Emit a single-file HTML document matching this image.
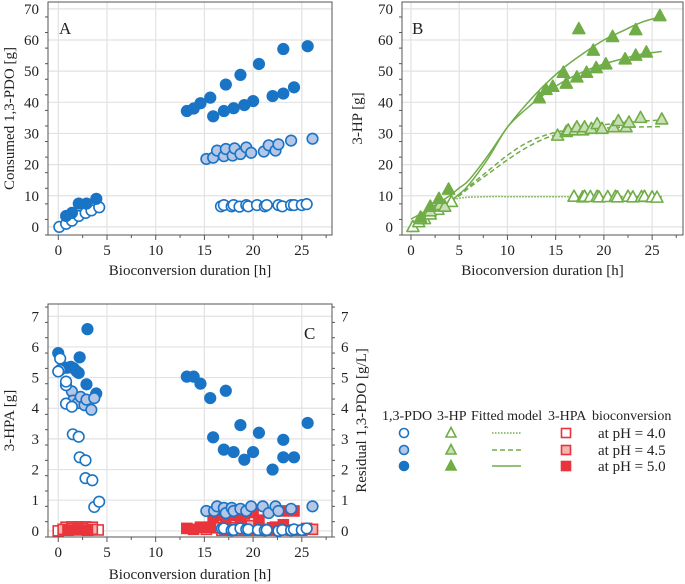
<!DOCTYPE html>
<html><head><meta charset="utf-8"><style>
html,body{margin:0;padding:0;background:#fff}
svg{display:block;font-family:"Liberation Serif",serif}
</style></head><body>
<svg id="c" width="685" height="584" viewBox="0 0 685 584" xmlns="http://www.w3.org/2000/svg"></svg>
<script>
// ---------- DATA ----------
// Panel A: consumed 1,3-PDO [g]
const aOpenT=[0.1,0.8,1.4,2.1,2.8,3.4,4.2,16.7,17,17.8,18,18.6,19.3,19.5,20.4,21.2,21.4,22.6,23,23.9,24.2,25,25.5];
const aOpenV=[0,1,2,3.5,4.5,5.3,6.3,6.6,7,6.6,7,6.5,7,6.6,7,6.6,7,7,6.6,7,7,7,7.3];
const aLightT=[1,2,2.9,15.2,15.9,16.3,17,17.2,17.9,18.1,18.7,19.3,19.8,21.1,21.6,22.3,22.6,23.9,26.1];
const aLightV=[2,3.5,5,21.8,22.2,24.5,22.7,25,22.9,25.2,23.4,25.5,23.8,24.2,26.2,24.5,26.5,27.7,28.3];
const aFullT=[0.8,1.4,2.1,2.9,3.9,13.2,13.9,14.6,15.6,17.2,18.7,20.6,23.1,25.6,15.9,17,18,19.1,20,22,23.1,24.2];
const aFullV=[3.5,4.5,7.5,7.5,9,37.2,38,39.7,41.5,45.7,48.8,52.3,57.1,58,35.5,37.2,38.1,39.1,40.4,42,42.8,44.8];
// Panel B: 3-HP [g]
const bOpenT=[0.2,0.8,1.4,2,2.8,3.4,4.2,16.9,17.8,18,18.6,19.3,19.5,20.4,21.2,21.4,22.5,23,23.9,24.2,25,25.5];
const bOpenV=[0,1.5,2.5,4,5.5,6.5,8,9.7,9.5,9.7,9.6,9.7,9.5,9.6,9.7,9.5,9.7,9.5,9.6,9.7,9.5,9.4];
const bLightT=[1,2,3,3.5,15.2,16.1,16.3,17,17.2,17.8,18,18.7,19.3,19.8,21,21.5,22.3,22.6,23.8,26];
const bLightV=[2.5,5,7,6.5,29.3,30.5,31,31,32,31,32,31.5,33,31.5,32,34,32,33.5,35,34.5];
const bFullT=[1,2,2.9,3.9,13.3,14,14.7,15.8,16.1,17.2,17.4,18.2,18.9,19.2,20.2,20.9,22.2,23.3,23.3,24.4,25.8];
const bFullV=[3,6.5,9,12,41.3,44,45,49.5,46,48,63.5,49.5,56.6,51,52.2,61,53.8,55,63.2,56,67.7];
const fitT=[0,1,2,3,4,5,6,8,10,12,14,16,18,20,22,24,26];
const fitSolid1=[2.5,4.2,6,8,10,12.5,15,23,32,39.5,46,51.5,56,60,63,65.8,67.5];
const fitSolid2=[0.5,2.2,4,6,8,10.5,13.5,22,32,38,43,47,50,52.3,54,55.5,56.3];
const fitDash1=[0,2,4,6,8,10.5,13,18,23,27,29.5,31,32,32.8,33.5,34,34.3];
const fitDash2=[0,2,4,6,8,10,12.5,17,21.5,25.5,28.5,30.3,31.2,31.7,32,32.1,32.2];
const fitDot=[0,2.5,5,7,8.5,9.2,9.5,9.7,9.7,9.7,9.7,9.7,9.7,9.7,9.7,9.7,9.7];
// Panel C: 3-HPA [g] (squares) and residual 1,3-PDO [g/L] (circles)
const cOpenT=[0,0.2,0.8,0.8,0.8,1.4,1.5,2.1,2.2,2.8,2.8,3.5,3.7,4.2,16.8,17,17.8,18,18.7,19.3,19.5,20.5,21.2,21.4,22.6,23,23.9,24.2,25,25.5];
const cOpenV=[5.2,5.62,4.75,4.87,4.15,4.05,3.15,3.07,2.4,2.3,1.72,1.65,0.78,0.95,0.07,0.08,0.02,0.03,0.08,0.05,0.05,0.03,0.02,0.03,0,0.03,0.02,0.05,0.03,0.08];
const cLightT=[0.2,1.4,1.5,2,2.3,2.7,2.9,3.4,3.7,15.2,16,16.3,17,17.2,17.8,18,18.7,19.3,19.8,21,21.6,22.3,22.6,23.9,26.1];
const cLightV=[5.25,4.55,4.25,4.17,4.37,4.1,4.28,3.95,4.33,0.65,0.65,0.8,0.75,0.58,0.75,0.65,0.72,0.65,0.8,0.8,0.58,0.8,0.65,0.72,0.8];
const cFullT=[0,0.9,1.3,1.6,1.9,2.1,2.2,2.9,3,3.9,13.2,13.9,14.6,15.6,15.9,17,17.2,18,18.7,19.1,20,20.6,22,23.1,23.1,24.2,25.6];
const cFullV=[5.8,5.32,5.35,5.3,5.2,5.15,5.66,4.78,6.58,4.48,5.03,5.03,4.8,4.33,3.05,2.65,4.57,2.57,3.45,2.32,2.57,3.2,2,2.97,2.4,2.4,3.52];
const sqOpenT=[0,0.8,1.4,2.1,2.8,3.1,3.5,4.1,16.8,17.8,18.6,19.5,20.5,21.4,22.6,23.9,25];
const sqOpenV=[0,0.12,0.13,0.13,0.13,0.03,0.12,0.03,0.02,0.02,0.02,0.02,0.02,0.02,0.02,0.02,0.02];
const sqLightT=[0.5,1.5,2.5,3.5,15.2,16.3,17.2,18,19.8,21.5,22.3,25.5,26.1];
const sqLightV=[0.05,0.08,0.08,0.05,0.05,0.1,0.05,0.1,0.17,0.05,0.12,0.08,0.05];
const sqFullT=[1,2,3,13.2,13.9,14.6,15.6,15.9,17,17.2,18,18.7,19.1,20,20.6,22,23.1,23.1,24.2];
const sqFullV=[0.02,0.03,0.02,0.08,0.05,0.12,0.12,0.45,0.5,0.3,0.5,0.2,0.55,0.6,0.35,0.1,0.2,0.65,0.65];
const xTicks=[0,5,10,15,20,25];
const yTicksAB=[0,10,20,30,40,50,60,70];
const yTicksC=[0,1,2,3,4,5,6,7];

// ---------- STYLE ----------
const BLUE="#1a74c6",LBLUE="#b5c6e6",GREEN="#70ad47",LGREEN="#c9dfb5",RED="#e8343a",LRED="#f4b4b0";
const NS="http://www.w3.org/2000/svg";
const svg=document.getElementById('c');
function el(tag,attrs,parent){const e=document.createElementNS(NS,tag);for(const k in attrs)e.setAttribute(k,attrs[k]);(parent||svg).appendChild(e);return e;}
function txt(s,x,y,size,anchor,parent){const t=el('text',{x:x,y:y,'font-size':size,'text-anchor':anchor||'middle',fill:'#222'},parent);t.textContent=s;return t;}

function panel(name,box,xr,yr,yTicks,yMinor,opts){
  const g=el('g',{});
  
  
  const sx=t=>box.x0+(t-xr[0])/(xr[1]-xr[0])*(box.x1-box.x0);
  const sy=v=>box.y1-(v-yr[0])/(yr[1]-yr[0])*(box.y1-box.y0);
  xTicks.forEach(t=>{el('line',{x1:sx(t),x2:sx(t),y1:box.y0,y2:box.y1,stroke:'#e2e2e2','stroke-width':1.2},g);});
  yTicks.forEach(v=>{el('line',{x1:box.x0,x2:box.x1,y1:sy(v),y2:sy(v),stroke:'#e2e2e2','stroke-width':1.2},g);});
  const fr=el('rect',{x:box.x0,y:box.y0,width:box.x1-box.x0,height:box.y1-box.y0,fill:'none',stroke:'#555','stroke-width':1},g);
  
  
  for(let t=0;t<=27.5;t+=2.5){const maj=t%5===0;el('line',{x1:sx(t),x2:sx(t),y1:box.y1,y2:box.y1+(maj?5:3),stroke:'#555'},g);}
  xTicks.forEach(t=>{const l=txt(String(t),sx(t),box.y1+20,15,'middle',g);
    
    });
  const xl=txt('Bioconversion duration [h]',(box.x0+box.x1)/2,box.y1+opts.xty,15,'middle',g);
  
  
  const sides=opts.right?[0,1]:[0];
  sides.forEach(sd=>{
    const xe=sd?box.x1:box.x0, dir=sd?1:-1;
    for(let v=yr[0];v<=yr[1]+1e-9;v+=yMinor){const maj=Math.abs(v/yTicks[1]-Math.round(v/yTicks[1]))<1e-6;
      el('line',{x1:xe,x2:xe+dir*(maj?5:3),y1:sy(v),y2:sy(v),stroke:'#555'},g);}
    yTicks.forEach(v=>{const l=txt(String(v),xe+dir*9,sy(v)+5,15,sd?'start':'end',g);
      
      });
  });
  const yl=txt(opts.ylabel,0,0,15,'middle',g);
  yl.setAttribute('transform','translate('+opts.ylx+','+(box.y0+box.y1)/2+') rotate(-90)');
  
  
  if(opts.ylabel2){const y2=txt(opts.ylabel2,0,0,15,'middle',g);
    y2.setAttribute('transform','translate('+opts.yl2x+','+(box.y0+box.y1)/2+') rotate(-90)');
    
    }
  const pl=txt(opts.letter,opts.lx,opts.ly,17,'start',g);
  
  
  return {g,sx,sy};
}
function circles(P,T,V,fill,stroke,nm){T.forEach((t,i)=>{const c=el('circle',{cx:P.sx(t),cy:P.sy(V[i]),r:5.3,fill:fill,stroke:stroke,'stroke-width':1.6},P.g);
  
  });}
function tris(P,T,V,fill,stroke,nm){T.forEach((t,i)=>{const x=P.sx(t),y=P.sy(V[i]);
  const p=el('polygon',{points:(x)+','+(y-6.5)+' '+(x-6)+','+(y+4.5)+' '+(x+6)+','+(y+4.5),fill:fill,stroke:stroke,'stroke-width':1.6,'stroke-linejoin':'round'},P.g);
  
  });}
function squares(P,T,V,fill,stroke,nm){T.forEach((t,i)=>{const s=el('rect',{x:P.sx(t)-5,y:P.sy(V[i])-5,width:10,height:10,fill:fill,stroke:stroke,'stroke-width':1.6},P.g);
  
  });}
function fit(P,V,dash,nm){
  const pts=fitT.map((t,i)=>[P.sx(t),P.sy(V[i])]);
  let d='M'+pts[0][0].toFixed(1)+','+pts[0][1].toFixed(1);
  for(let i=0;i<pts.length-1;i++){
    const p0=pts[Math.max(0,i-1)],p1=pts[i],p2=pts[i+1],p3=pts[Math.min(pts.length-1,i+2)];
    const c1=[p1[0]+(p2[0]-p0[0])/6,p1[1]+(p2[1]-p0[1])/6],c2=[p2[0]-(p3[0]-p1[0])/6,p2[1]-(p3[1]-p1[1])/6];
    d+=' C'+c1.map(v=>v.toFixed(1)).join(',')+' '+c2.map(v=>v.toFixed(1)).join(',')+' '+p2.map(v=>v.toFixed(1)).join(',');
  }
  const p=el('path',{d:d,fill:'none',stroke:GREEN,'stroke-width':1.5,'stroke-dasharray':dash,'stroke-linejoin':'round'},P.g);
  
  }

// Panel A
const A=panel('panel-a',{x0:48,x1:332,y0:2,y1:235},[-1.06,28.1],[-2.6,72.2],yTicksAB,5,{ylabel:'Consumed 1,3-PDO [g]',ylx:14,letter:'A',lx:59,ly:34,xty:40});
circles(A,aLightT,aLightV,LBLUE,BLUE,'pdo-ph45-point');
circles(A,aOpenT,aOpenV,'#fff',BLUE,'pdo-ph40-point');
circles(A,aFullT,aFullV,BLUE,BLUE,'pdo-ph50-point');
// Panel B
const B=panel('panel-b',{x0:402,x1:683,y0:2,y1:235},[-0.93,28.2],[-2.6,72.2],yTicksAB,5,{ylabel:'3-HP [g]',ylx:362,letter:'B',lx:412,ly:34,xty:40});
fit(B,fitDot,'1.5,1.5','fit-ph40');
fit(B,fitDash1,'5,3','fit-ph45-a');
fit(B,fitDash2,'5,3','fit-ph45-b');
fit(B,fitSolid1,'','fit-ph50-a');
fit(B,fitSolid2,'','fit-ph50-b');
tris(B,bOpenT,bOpenV,'#fff',GREEN,'hp-ph40-point');
tris(B,bLightT,bLightV,LGREEN,GREEN,'hp-ph45-point');
tris(B,bFullT,bFullV,GREEN,GREEN,'hp-ph50-point');
// Panel C
const C=panel('panel-c',{x0:48,x1:332,y0:304,y1:537},[-1.05,28.1],[-0.2,7.4],yTicksC,0.5,{ylabel:'3-HPA [g]',ylx:14,ylabel2:'Residual 1,3-PDO [g/L]',yl2x:366,right:true,letter:'C',lx:304,ly:339,xty:42});
squares(C,sqOpenT,sqOpenV,'#fff',RED,'hpa-ph40-point');
squares(C,sqLightT,sqLightV,LRED,RED,'hpa-ph45-point');
squares(C,sqFullT,sqFullV,RED,RED,'hpa-ph50-point');
circles(C,cFullT,cFullV,BLUE,BLUE,'residual-pdo-ph50-point');
circles(C,cLightT,cLightV,LBLUE,BLUE,'residual-pdo-ph45-point');
circles(C,cOpenT,cOpenV,'#fff',BLUE,'residual-pdo-ph40-point');

// Legend
const L=el('g',{});


[['1,3-PDO',382],['3-HP',437],['Fitted model',471],['3-HPA',548],['bioconversion',592]].forEach(h=>{const t=txt(h[0],h[1],420,14,'start',L);
  
  });
const rows=[433,450,466];
const fills=[['#fff',LBLUE,BLUE],['#fff',LGREEN,GREEN],['#fff',LRED,RED]];
const dashes=['1.5,1.5','5,3',''];
const labs=['at pH = 4.0','at pH = 4.5','at pH = 5.0'];
rows.forEach((y,i)=>{
  const c=el('circle',{cx:404,cy:y,r:4.5,fill:fills[0][i],stroke:BLUE,'stroke-width':1.6},L);
  
  
  const p=el('polygon',{points:'451,'+(y-5.5)+' 446,'+(y+4)+' 456,'+(y+4),fill:fills[1][i],stroke:GREEN,'stroke-width':1.6},L);
  
  
  const ln=el('line',{x1:492,x2:521,y1:y,y2:y,stroke:GREEN,'stroke-width':1.5,'stroke-dasharray':dashes[i]},L);
  
  
  const s=el('rect',{x:561.5,y:y-4.5,width:9,height:9,fill:fills[2][i],stroke:RED,'stroke-width':1.6},L);
  
  
  const t=txt(labs[i],598,y+5,15,'start',L);
  
  
});
</script>
</body></html>
